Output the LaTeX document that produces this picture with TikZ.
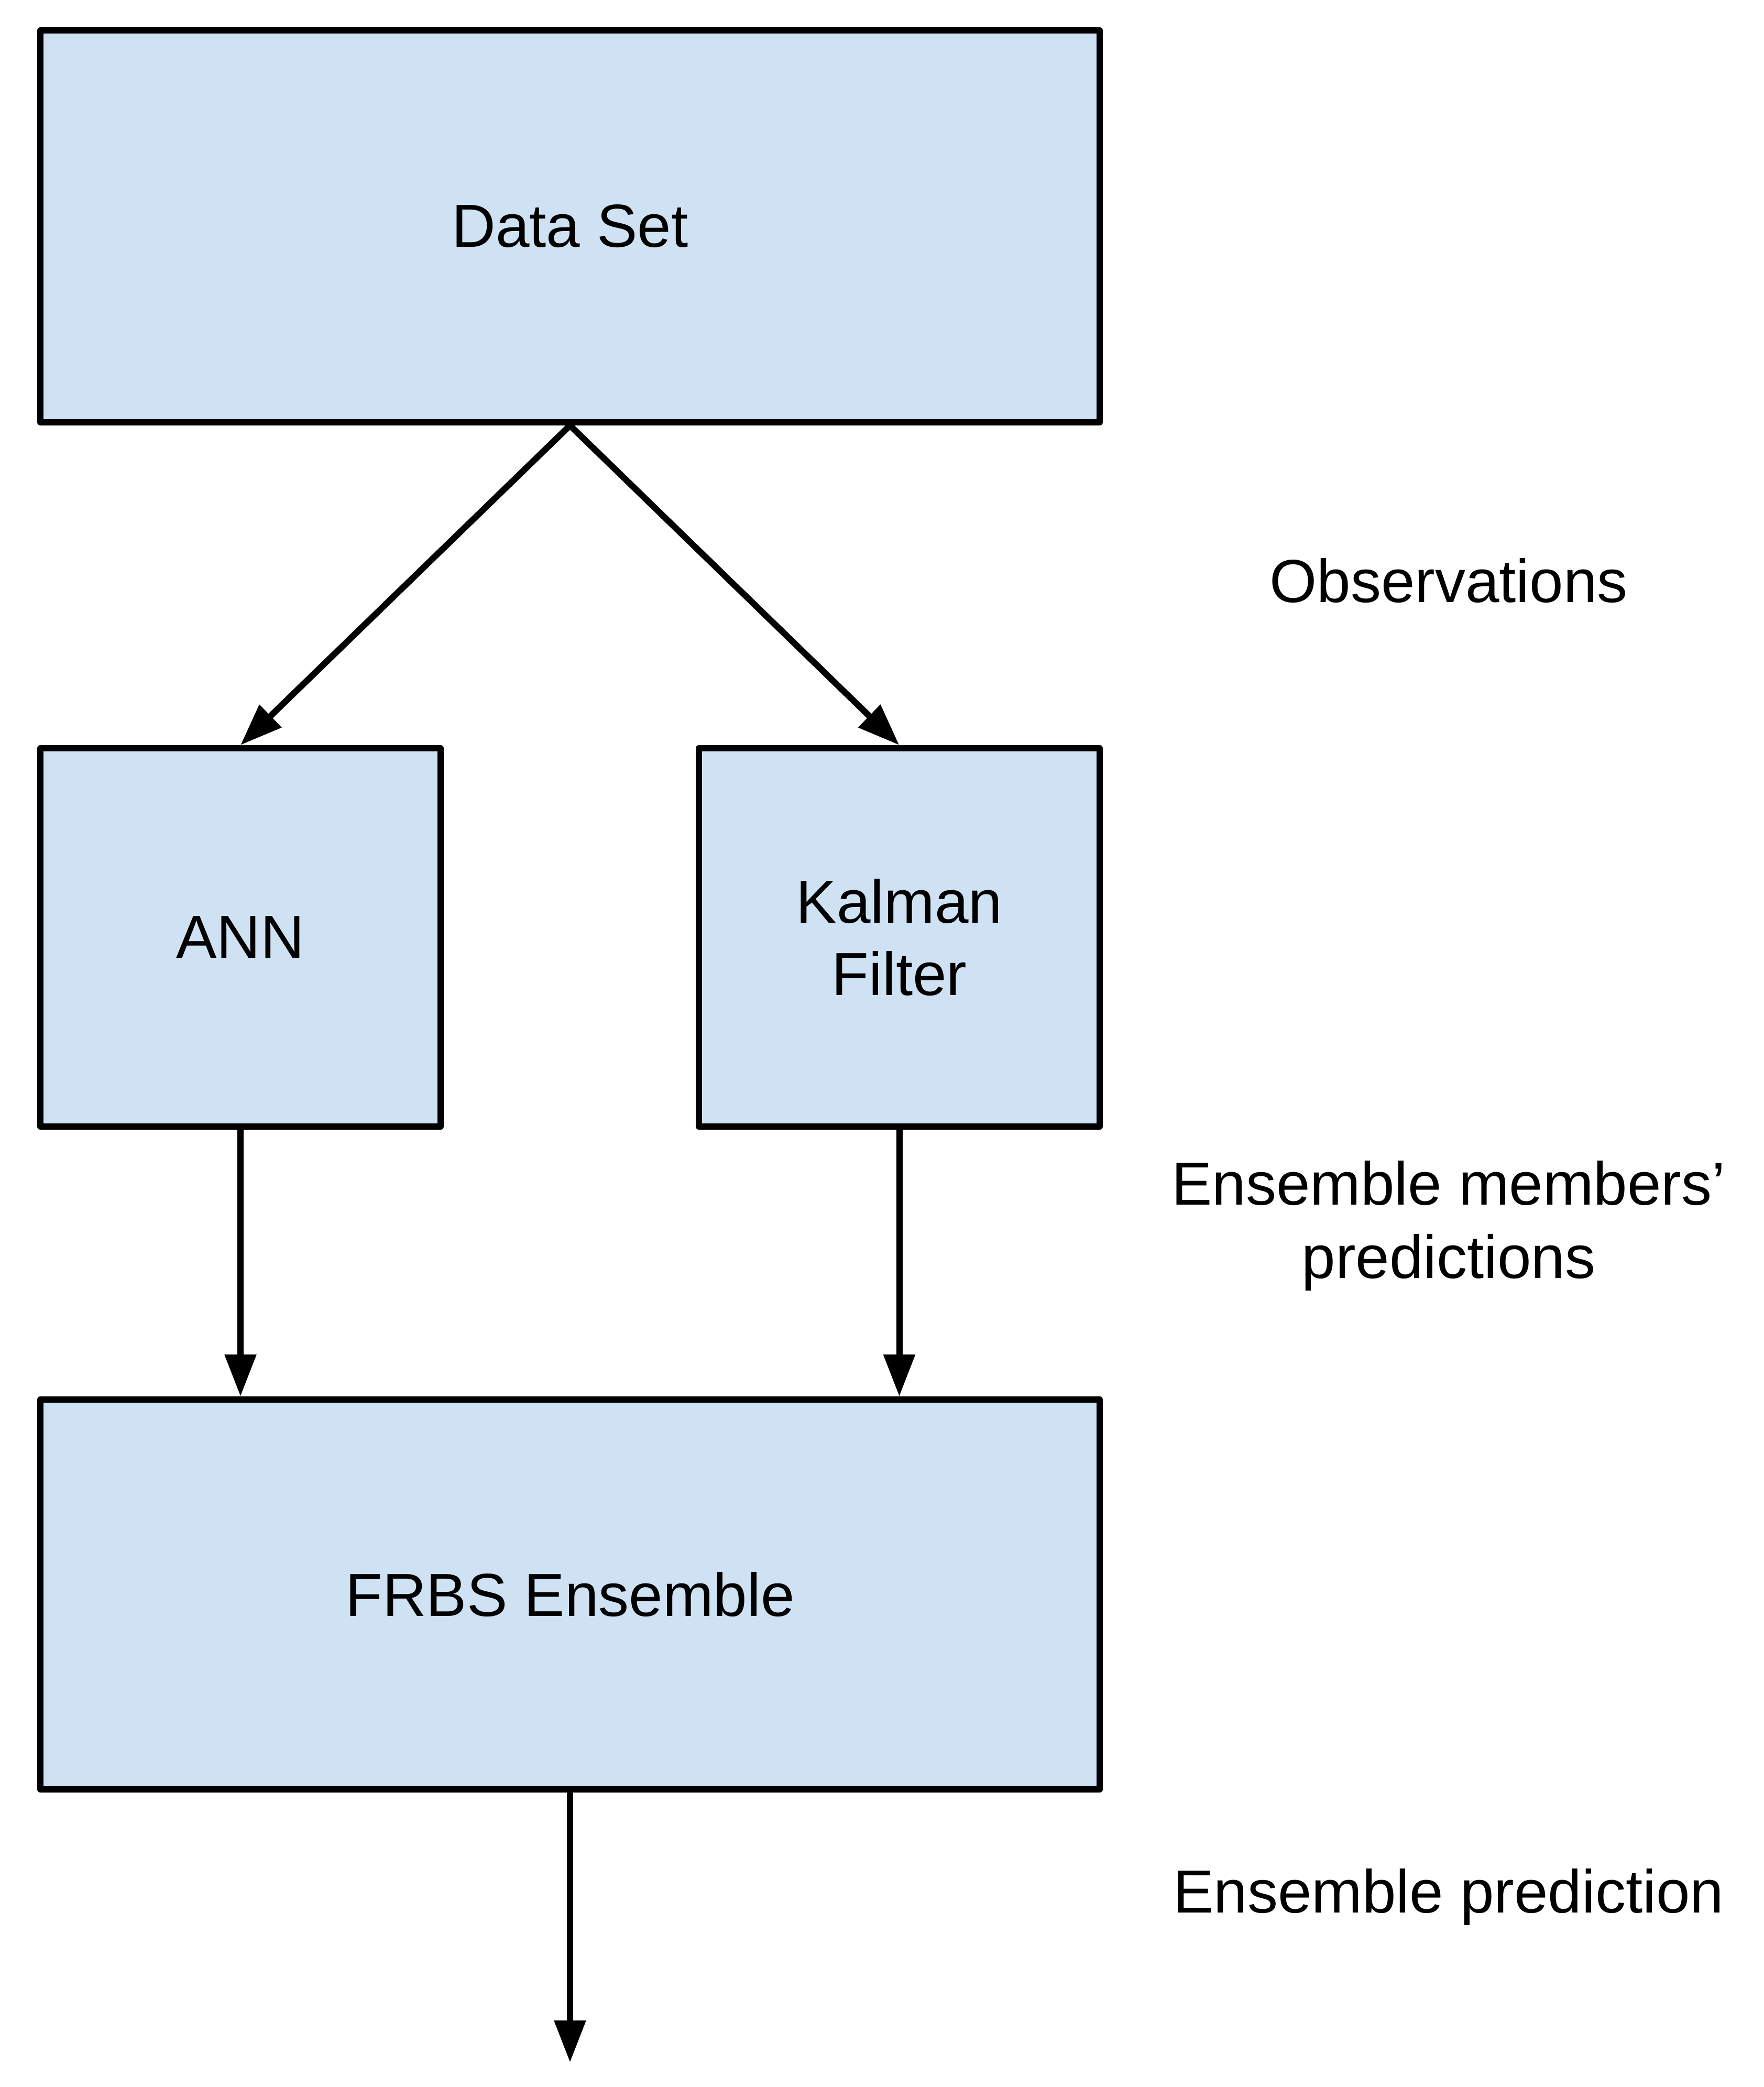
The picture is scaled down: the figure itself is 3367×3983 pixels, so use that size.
\documentclass[tikz,border=0pt]{standalone}
\usepackage{fontspec}
\setmainfont{Liberation Sans}
\usetikzlibrary{arrows.meta}
\definecolor{boxfill}{HTML}{CFE2F3}
\begin{document}
\begin{tikzpicture}[x=0.1pt,y=-0.1pt,
  box/.style={draw=black, fill=boxfill, line width=1.2pt, line join=round, inner sep=0pt, align=center,
    font=\fontsize{11.6pt}{13.8pt}\selectfont},
  lbl/.style={inner sep=0pt, align=center, font=\fontsize{11.6pt}{14pt}\selectfont},
  conn/.style={line width=1.2pt, -{Triangle[length=8pt,width=5.8pt]}}]
\useasboundingbox (0,0) rectangle (3367,3983);
\node[box, minimum width=202.2pt, minimum height=74.8pt] (ds) at (1088,432) {\raisebox{-0.5pt}{Data Set}};
\node[box, minimum width=76.4pt, minimum height=72.2pt] (ann) at (459,1789) {\raisebox{-0.4pt}{ANN}};
\node[box, minimum width=76.5pt, minimum height=72.2pt] (kf) at (1716.5,1789) {Kalman\\Filter};
\node[box, minimum width=202.2pt, minimum height=74.4pt] (frbs) at (1088,3043) {FRBS Ensemble};
\coordinate (out) at (1088,3936);
\draw[conn] (ds.south) -- (ann.north);
\draw[conn] (ds.south) -- (kf.north);
\draw[conn] (ann.south) -- (frbs.north -| ann.south);
\draw[conn] (kf.south) -- (frbs.north -| kf.south);
\draw[conn] (frbs.south) -- (out);
\node[lbl] (obs) at (2765,1108) {Observations};
\node[lbl] (emp) at (2765,2339) {Ensemble members’\\predictions};
\node[lbl] (ep) at (2765,3620) {Ensemble prediction};
\end{tikzpicture}
\end{document}
